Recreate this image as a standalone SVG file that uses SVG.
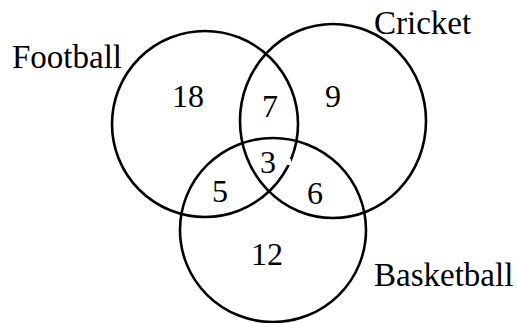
<svg xmlns="http://www.w3.org/2000/svg" width="517" height="323" viewBox="0 0 517 323">
<style>
.c{fill:none;stroke:#000;stroke-width:2.6}
.t{font-family:"Liberation Serif","DejaVu Serif",serif;font-size:33px;fill:#000}
.n{font-family:"Liberation Serif","DejaVu Serif",serif;font-size:32px;fill:#000;text-anchor:middle}
</style>
<rect width="517" height="323" fill="#fff"/>
<g id="football">
<ellipse class="c" cx="205" cy="124" rx="93" ry="93"/>
<text class="t" x="12" y="68">Football</text>
</g>
<g id="cricket">
<ellipse class="c" cx="333" cy="121" rx="93" ry="97"/>
<text class="t" x="374" y="34">Cricket</text>
</g>
<g id="basketball">
<ellipse class="c" cx="273" cy="230" rx="93" ry="92"/>
<text class="t" x="374" y="286">Basketball</text>
</g>
<rect x="285" y="159" width="6" height="6" fill="#fff"/>
<g id="counts">
<text class="n" x="188" y="107">18</text>
<text class="n" x="270" y="117">7</text>
<text class="n" x="333" y="107">9</text>
<text class="n" x="268" y="173">3</text>
<text class="n" x="220" y="202">5</text>
<text class="n" x="315" y="204">6</text>
<text class="n" x="267" y="265">12</text>
</g>
</svg>
